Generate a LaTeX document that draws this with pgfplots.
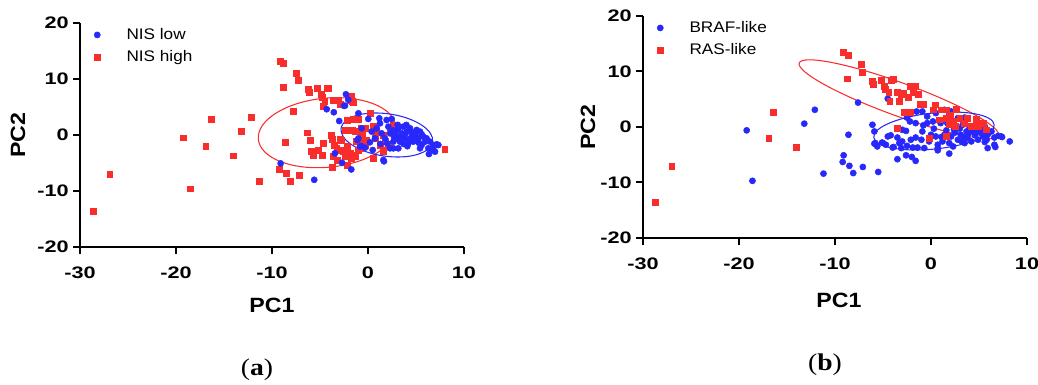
\documentclass[border=0pt]{standalone}
\usepackage{fontspec}
\setmainfont{Liberation Sans}[FakeStretch=1.12]
\newfontfamily\tickfont{Liberation Sans}[FakeStretch=1.3]
\newfontfamily\capfont{Liberation Serif}[FakeStretch=1.15]
\usepackage{pgfplots}
\pgfplotsset{compat=1.18}
\definecolor{pblue}{RGB}{40,40,252}
\definecolor{pred}{RGB}{250,45,45}
\pgfplotsset{
  pca/.style={
    scale only axis, width=288pt,
    xmin=-30,xmax=10,ymin=-20,ymax=20,
    axis x line=bottom, axis y line=left,
    axis line style={line width=1.5pt, black, -},
    every outer x axis line/.append style={-},
    every outer y axis line/.append style={-},
    xtick={-30,-20,-10,0,10}, xticklabels={-30,-20,-10,0,10},
    ytick={-20,-10,0,10,20}, yticklabels={-20,-10,0,10,20},
    tick align=outside, major tick length=5pt,
    tick style={line width=1.5pt, black},
    ticklabel style={font=\tickfont\bfseries\fontsize{12.5}{13}\selectfont},
    xticklabel style={yshift=-6.5pt},
    legend style={draw=none, fill=none, at={(axis description cs:0,1)}, anchor=north west,
      inner sep=0pt, outer sep=0pt, yshift=-4.5pt, row sep=6pt,
      nodes={inner sep=0pt, text height=8pt, text depth=2.5pt},
      font=\fontsize{11.5}{12}\selectfont},
    legend cell align=left,
  },
  limg/.style={legend image code/.code={\path[##1] plot coordinates {(12.75pt,0.8pt)}; \path (0pt,0pt) (34.5pt,0pt);}},
  bl/.style={only marks, mark=*, mark size=2.3pt, color=pblue, mark options={draw=pblue, fill=pblue}, limg},
  rd/.style={only marks, mark=square*, mark size=2.2pt, color=pred, mark options={draw=pred, fill=pred}, limg},
}
\begin{document}
\begin{tikzpicture}
\useasboundingbox (0,0) rectangle (778.5pt,288.75pt);
% ---------------- panel (a)
\begin{axis}[pca, height=168pt, at={(60pt,103.5pt)}, anchor=south west, reverse legend]
\draw[pred, line width=0.8pt, rotate around={5.5:(axis cs:-4.27,0.41)}] (axis cs:-4.27,0.41) ellipse [x radius=51.75pt, y radius=25.9pt];
\draw[pblue, line width=0.8pt, rotate around={-8.3:(axis cs:1.96,0)}] (axis cs:1.96,0) ellipse [x radius=34.7pt, y radius=15.9pt];
\addplot[rd] coordinates {
(-28.6,-13.55) (-26.9,-7.0) (-19.2,-0.5) (-18.5,-9.6) (-16.9,-2.0) (-16.35,2.8)
(-14.0,-3.7) (-13.2,0.6) (-12.2,3.1) (-11.3,-8.3) (-9.17,13.2) (-8.82,12.8)
(-7.5,11.1) (-7.3,9.7) (-8.8,8.6) (-6.2,8.2) (-6.1,7.6) (-5.3,8.3) (-4.3,8.4)
(-4.1,8.4) (-4.9,7.3) (-4.8,6.8) (-7.8,4.3) (-4.65,5.1) (-4.5,5.95) (-3.6,6.25)
(-3.1,6.25) (-2.9,5.5) (-2.05,7.0) (-1.7,7.0) (-1.5,5.8) (-1.88,6.25) (-1.6,5.95)
(-6.3,0.4) (-6.0,-0.9) (-8.6,-1.25) (-5.94,-2.98) (-5.7,-3.57) (-5.17,-2.8)
(-4.72,-3.57) (-4.65,-1.49) (-3.79,0) (-3.68,-0.7) (-3.26,-2.4) (-3.54,-1.8)
(-2.92,-2.68) (-2.74,-0.9) (-2.57,-2.98) (-2.4,-3.87) (-2.15,-1.96) (-1.87,-3.27)
(-1.7,-4.17) (-1.35,-3.87) (-1.0,-2.68) (-3.6,-3.87) (-3.19,-4.46) (-2.85,-0.77)
(-2.4,0.9) (-2.2,2.68) (-1.5,2.8) (-1.0,2.8) (-1.6,0.9) (-1.35,0.6) (-1.18,-1.19)
(-0.83,-0.9) (-0.49,-2.08) (-0.21,-0.9) (-0.55,0) (-0.31,1.19) (-9.24,-6.1)
(-8.47,-6.85) (-8.1,-8.2) (-7.15,-7.14) (-3.68,-5.77) (-2.2,-5.36) (-1.18,2.86)
(-0.66,1.19) (-0.56,0) (0.21,3.87) (0.56,1.49) (0.9,0.6) (0.73,-0.6) (1.6,0)
(1.77,-1.19) (2.29,1.31) (2.64,1.79) (2.12,-1.79) (1.25,-1.79) (1.6,-2.98)
(0.56,-4.17) (-0.3,-1.79) (-0.83,-2.38) (8.0,-2.5) (-2.22,-3.27) (-1.53,-3.57) (2.8,-0.6)
};
\addlegendentry{NIS high}
\addplot[bl] coordinates {
(-9.1,-5.07) (-5.6,-8.0) (-4.3,4.6) (-3.56,4.06) (-3.45,-3.28) (-3.0,2.5) (-2.7,-4.96)
(-2.5,5.2) (-2.3,7.27) (-2.05,6.3) (-1.74,-6.15) (-1.0,3.87) (1.66,-4.7) (-0.66,1.19)
(-1.1,-0.9) (-0.7,-1.96) (-2.4,5.24) (0.03,2.86) (-1.0,-0.6) (-0.83,-2.08) (-0.31,-2.26)
(0.38,0.6) (0.49,-2.68) (0.73,-0.6) (0.9,1.19) (1.18,2.98) (1.25,2.08) (1.42,0.3)
(1.77,-0.6) (1.94,2.68) (2.12,1.49) (2.29,0.3) (2.47,2.86) (2.64,-1.19) (2.64,-2.38)
(2.81,0.3) (2.99,-0.48) (3.16,1.19) (3.33,-1.19) (3.51,0.3) (3.68,1.49) (3.85,-0.6)
(4.03,0.6) (4.2,-1.49) (4.38,1.19) (4.55,-0.3) (4.72,-1.19) (4.9,0.12) (5.07,0.9)
(5.24,-0.6) (5.42,0.6) (5.59,-1.79) (5.76,-0.3) (5.94,-1.19) (6.28,-2.38) (6.46,-1.19)
(6.8,-1.79) (6.98,-2.98) (7.15,-1.67) (7.33,-1.79) (5.42,-2.38) (1.6,-4.46) (3.16,-2.38)
(2.29,-2.38) (3.0,0.9) (3.4,-0.2) (3.9,0.2) (4.3,-0.8) (4.6,0.5) (2.6,0.8) (3.7,-1.6)
(5.0,-1.0) (4.1,-2.0) (2.0,-1.5) (3.1,1.8) (5.6,0.1) (6.1,-0.6) (1.3,-1.6) (0.2,-1.3)
(4.8,-0.5) (3.6,-0.9) (2.7,-0.3) (4.0,1.8) (5.3,-1.4) (6.35,-3.4) (6.8,-2.7) (7.1,-1.8)
};
\addlegendentry{NIS low}
\end{axis}
% ---------------- panel (b)
\begin{axis}[pca, height=166.5pt, at={(482.25pt,110.25pt)}, anchor=south west]
\draw[pred, line width=0.8pt, rotate around={-20:(axis cs:-3.35,5.0)}] (axis cs:-3.35,5.0) ellipse [x radius=79.5pt, y radius=12.4pt];
\draw[pblue, line width=0.8pt, rotate around={6:(axis cs:0.31,-0.72)}] (axis cs:0.31,-0.72) ellipse [x radius=45.4pt, y radius=13.5pt];
\addplot[bl] coordinates {
(-19.2,-0.6) (-18.6,-9.7) (-13.2,0.6) (-12.1,3.1) (-11.2,-8.4) (-9.1,-5.1) (-9.2,-6.3)
(-8.5,-7.0) (-8.1,-8.3) (-7.1,-7.2) (-8.6,-1.4) (-7.6,4.4) (-5.5,-8.1) (-4.5,5.1)
(-6.1,0.4) (-5.9,-0.8) (-3.5,-5.8) (-2.6,-5.1) (-2.0,-5.4) (-1.6,-6.1) (0.7,-4.2)
(1.9,-4.8) (6.7,-3.6) (7.4,-1.8) (8.2,-2.6)
(-5.8,-2.9) (-5.6,-3.5) (-5.1,-2.8) (-4.7,-3.2) (-4.5,-1.7) (-4.0,-3.7) (-3.5,-1.9)
(-3.3,-2.9) (-3.1,-3.8) (-3.0,-2.6) (-2.6,-0.7) (-2.5,-3.4) (-2.1,-2.3) (-1.9,-3.7)
(-1.6,-1.9) (-1.4,-3.7) (-1.0,-2.3) (-0.9,-0.8) (-0.7,-3.8) (-0.4,0.7) (-0.2,-2.6)
(0.0,-1.4) (0.2,1.0) (0.5,-1.7) (0.7,-3.2) (1.0,0.7) (1.2,-2.6) (1.4,-1.4) (1.7,0.7)
(1.9,-2.9) (2.1,-1.7) (2.3,-3.5) (2.4,-0.5) (2.8,-2.3) (3.1,-1.4) (3.3,0.4) (3.5,-2.9)
(3.7,-0.8) (3.8,-2.0) (4.0,0.1) (4.2,-2.6) (4.5,-1.1) (4.7,0.4) (4.9,-2.3) (5.2,-0.8)
(5.4,-1.7) (5.6,0.1) (5.8,-2.3) (5.9,-1.4) (6.3,-0.8) (6.6,-1.9) (7.0,-1.6) (7.3,-1.7)
(6.6,-3.2) (5.9,-3.8) (-1.5,2.8) (-0.9,2.8) (-2.5,1.7) (-1.6,0.7) (-0.4,1.9) (0.5,2.5)
(1.4,3.1) (1.9,2.2) (2.1,2.8) (2.8,1.6) (3.5,1.7) (0.7,-3.8) (2.5,-1.0) (3.0,-0.3)
(3.4,-1.8) (4.3,-0.5) (4.6,-1.5) (5.0,-0.2) (5.3,-1.2) (2.2,0.3) (3.9,-1.2) (4.8,-0.9)
(1.6,-0.6) (1.1,-1.8) (0.3,-0.3) (3.2,-2.6) (5.6,-2.7) (-2.2,1.0) (-3.0,-0.5) (-0.8,0.3)
(-5.9,-3.0) (-5.0,-2.9) (-4.2,-1.5) (-3.9,-3.6)
};
\addlegendentry{BRAF-like}
\addplot[rd] coordinates {
(-28.7,-13.6) (-27.0,-7.1) (-16.4,2.7) (-16.9,-2.0) (-14.0,-3.7) (-9.1,13.4) (-8.6,12.9)
(-8.7,8.7) (-7.3,11.3) (-7.2,9.8) (-6.1,8.3) (-6.0,7.7) (-5.2,8.4) (-4.9,7.4) (-4.8,6.8)
(-4.1,8.4) (-3.9,8.6) (-4.4,6.2) (-4.3,4.6) (-3.5,6.3) (-3.3,4.6) (-3.1,5.8) (-2.9,6.0)
(-2.4,5.3) (-2.2,7.4) (-1.9,6.2) (-1.8,6.6) (-1.6,7.4) (-1.3,5.9) (-1.1,4.1) (-0.8,4.1)
(-2.8,2.6) (-2.2,2.6) (0.2,3.1) (0.4,4.0) (1.1,3.1) (1.6,3.1) (2.6,3.2) (0.9,1.3)
(1.6,1.6) (2.0,2.2) (2.3,1.0) (2.5,0.1) (3.0,1.6) (3.5,0.7) (3.8,1.6) (4.2,0.1) (4.7,1.4)
(4.9,0.1) (5.4,0.7) (5.8,-0.5) (-3.5,-0.2) (-0.2,-2.0) (1.9,0.4) (1.6,-1.7)
};
\addlegendentry{RAS-like}
\end{axis}
% ---------------- labels
\node[rotate=90, font=\fontsize{15.5}{16}\selectfont\bfseries] at (13.5pt,187.5pt) {PC2};
\node[font=\fontsize{15.5}{16}\selectfont\bfseries] at (204pt,60pt) {PC1};
\node[rotate=90, font=\fontsize{15.5}{16}\selectfont\bfseries] at (441pt,193.5pt) {PC2};
\node[font=\fontsize{15.5}{16}\selectfont\bfseries] at (629.25pt,63.75pt) {PC1};
\node[font=\capfont\fontsize{18}{19}\selectfont] at (192.75pt,11.25pt) {(\textbf{a})};
\node[font=\capfont\fontsize{18}{19}\selectfont] at (618.75pt,15pt) {(\textbf{b})};
\end{tikzpicture}
\end{document}
